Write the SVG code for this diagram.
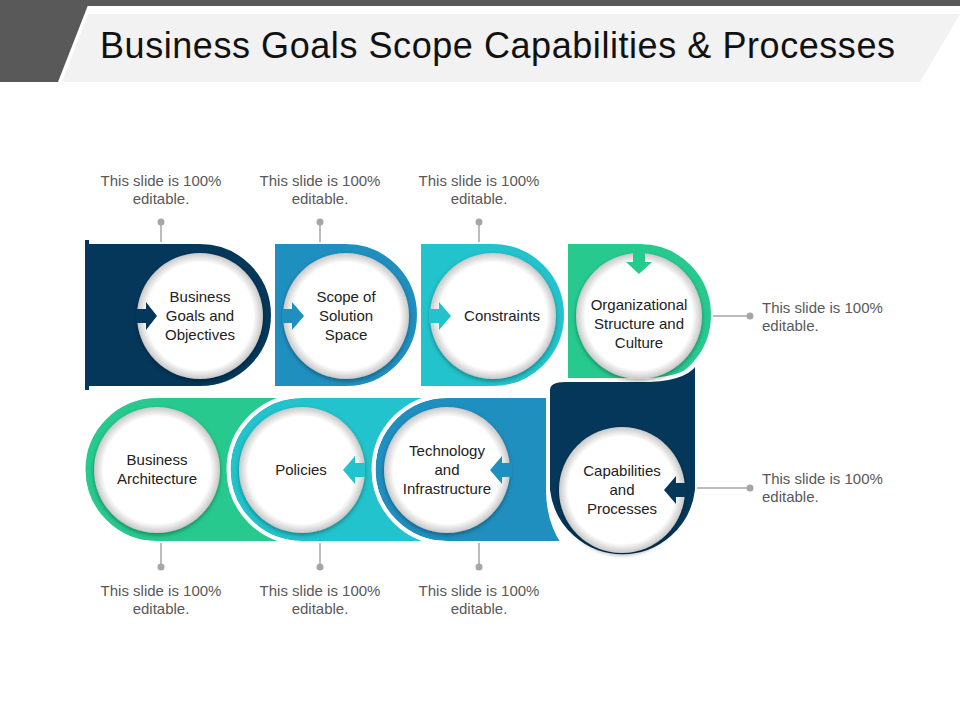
<svg xmlns="http://www.w3.org/2000/svg" width="960" height="720" viewBox="0 0 960 720">
<defs>
<radialGradient id="cg" cx="0.5" cy="0.5" r="0.5">
<stop offset="0.85" stop-color="#ffffff"/>
<stop offset="1" stop-color="#c8c8c8"/>
</radialGradient>
<filter id="sh" x="-20%" y="-20%" width="140%" height="140%"><feDropShadow dx="0" dy="2" stdDeviation="2" flood-color="#000" flood-opacity="0.35"/></filter>
</defs>
<style>
.seg{stroke:#fff;stroke-width:4}
.c{fill:url(#cg);filter:url(#sh)}
.t{font-family:"Liberation Sans",Arial,sans-serif;font-size:15px;fill:#222;text-anchor:middle}
.n{font-family:"Liberation Sans",Arial,sans-serif;font-size:15px;fill:#595959;text-anchor:middle}
.nl{font-family:"Liberation Sans",Arial,sans-serif;font-size:15px;fill:#595959}
.ln{stroke:#a6a6a6;stroke-width:1.5}
.dot{fill:#a6a6a6}
</style>
<rect x="0" y="0" width="960" height="6" fill="#595959"/>
<polygon points="0,0 90,0 58,82 0,82" fill="#595959"/>
<polygon points="88,14 960,14 920,82 62,82" fill="#f2f2f2"/>
<text x="100" y="58" font-family="Liberation Sans,Arial,sans-serif" font-size="36" fill="#111" textLength="795">Business Goals Scope Capabilities &amp; Processes</text>

<g id="bands">
<path class="seg" d="M566,242 H640 A73,73 0 0 1 640,388 H566 Z" fill="#27c98f"/>
<path class="seg" d="M419,242 H493 A73,73 0 0 1 493,388 H419 Z" fill="#22c3cc"/>
<path class="seg" d="M273,242 H346 A73,73 0 0 1 346,388 H273 Z" fill="#1f8fbf"/>
<path d="M85,242 H200 A73,73 0 0 1 200,388 H85 Z" fill="#04375a" stroke="#fff" stroke-width="4"/>
<rect x="85" y="240" width="4" height="150" fill="#04375a"/>
<path class="seg" d="M447,396 H548 V490 Q548,520 563,543 H447 A73.5,73.5 0 0 1 447,396 Z" fill="#1f8fbf"/>
<path class="seg" d="M548,390 Q548,380 565,380 L650,380 Q690,378 697,360 V490 A75,75 0 0 1 548,490 Z" fill="#04375a"/>
<path class="seg" d="M302,396 H447 A73.5,73.5 0 0 0 447,543 H302 A73.5,73.5 0 0 1 302,396 Z" fill="#22c3cc"/>
<path class="seg" d="M157,396 H302 A73.5,73.5 0 0 0 302,543 H157 A73.5,73.5 0 0 1 157,396 Z" fill="#27c98f"/>
</g>

<g id="n1"><circle class="c" cx="200" cy="316" r="63"/><polygon points="136,309 146,309 146,302 157,316 146,330 146,323 136,323" fill="#04375a"/>
<text class="t" x="200" y="302">Business</text><text class="t" x="200" y="321">Goals and</text><text class="t" x="200" y="340">Objectives</text></g>
<g id="n2"><circle class="c" cx="346" cy="316" r="63"/><polygon points="282,309 292,309 292,302 304,316 292,330 292,323 282,323" fill="#1f8fbf"/>
<text class="t" x="346" y="302">Scope of</text><text class="t" x="346" y="321">Solution</text><text class="t" x="346" y="340">Space</text></g>
<g id="n3"><circle class="c" cx="493" cy="316" r="63"/><polygon points="429,309 439,309 439,302 451,316 439,330 439,323 429,323" fill="#22c3cc"/>
<text class="t" x="502" y="321">Constraints</text></g>
<g id="n4"><circle class="c" cx="639" cy="316" r="63"/><polygon points="633,252 645,252 645,262 652,262 639,274 626,262 633,262" fill="#27c98f"/>
<text class="t" x="639" y="310">Organizational</text><text class="t" x="639" y="329">Structure and</text><text class="t" x="639" y="348">Culture</text></g>
<g id="n5"><circle class="c" cx="622" cy="490" r="63"/><polygon points="686,483 676,483 676,476 664,490 676,504 676,497 686,497" fill="#04375a"/>
<text class="t" x="622" y="476">Capabilities</text><text class="t" x="622" y="495">and</text><text class="t" x="622" y="514">Processes</text></g>
<g id="n6"><circle class="c" cx="447" cy="470" r="63"/><polygon points="512,463 502,463 502,456 490,470 502,484 502,477 512,477" fill="#1f8fbf"/>
<text class="t" x="447" y="456">Technology</text><text class="t" x="447" y="475">and</text><text class="t" x="447" y="494">Infrastructure</text></g>
<g id="n7"><circle class="c" cx="302" cy="470" r="63"/><polygon points="365,463 355,463 355,456 343,470 355,484 355,477 365,477" fill="#22c3cc"/>
<text class="t" x="301" y="475">Policies</text></g>
<g id="n8"><circle class="c" cx="157" cy="470" r="63"/>
<text class="t" x="157" y="465">Business</text><text class="t" x="157" y="484">Architecture</text></g>

<g id="connectors">
<line class="ln" x1="161" y1="222" x2="161" y2="242"/><circle class="dot" cx="161" cy="222" r="3.5"/>
<line class="ln" x1="320" y1="222" x2="320" y2="242"/><circle class="dot" cx="320" cy="222" r="3.5"/>
<line class="ln" x1="479" y1="222" x2="479" y2="242"/><circle class="dot" cx="479" cy="222" r="3.5"/>
<line class="ln" x1="713" y1="316" x2="750" y2="316"/><circle class="dot" cx="750" cy="316" r="3.5"/>
<line class="ln" x1="697" y1="488" x2="750" y2="488"/><circle class="dot" cx="750" cy="488" r="3.5"/>
<line class="ln" x1="161" y1="543" x2="161" y2="567"/><circle class="dot" cx="161" cy="567" r="3.5"/>
<line class="ln" x1="320" y1="543" x2="320" y2="567"/><circle class="dot" cx="320" cy="567" r="3.5"/>
<line class="ln" x1="479" y1="543" x2="479" y2="567"/><circle class="dot" cx="479" cy="567" r="3.5"/>
</g>

<g id="notes">
<text class="n" x="161" y="186">This slide is 100%</text><text class="n" x="161" y="204">editable.</text>
<text class="n" x="320" y="186">This slide is 100%</text><text class="n" x="320" y="204">editable.</text>
<text class="n" x="479" y="186">This slide is 100%</text><text class="n" x="479" y="204">editable.</text>
<text class="nl" x="762" y="313">This slide is 100%</text><text class="nl" x="762" y="331">editable.</text>
<text class="nl" x="762" y="484">This slide is 100%</text><text class="nl" x="762" y="502">editable.</text>
<text class="n" x="161" y="596">This slide is 100%</text><text class="n" x="161" y="614">editable.</text>
<text class="n" x="320" y="596">This slide is 100%</text><text class="n" x="320" y="614">editable.</text>
<text class="n" x="479" y="596">This slide is 100%</text><text class="n" x="479" y="614">editable.</text>
</g>
</svg>
